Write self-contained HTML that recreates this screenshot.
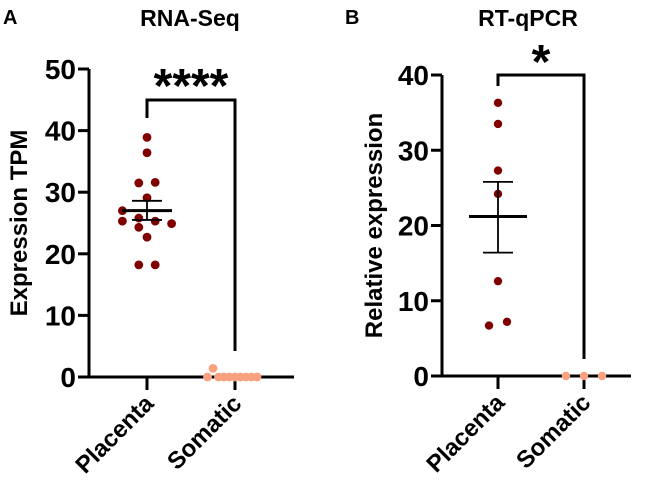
<!DOCTYPE html>
<html><head><meta charset="utf-8"><style>
html,body{margin:0;padding:0;background:#fff;}
svg{display:block;font-family:"Liberation Sans",Arial,sans-serif;font-weight:bold;}
</style></head><body>
<svg id="c" width="645" height="482" xmlns="http://www.w3.org/2000/svg"></svg>
<script>
const categories = ["Placenta","Somatic"];
const aPlacenta = [38.9,36.4,31.5,31.6,29.1,27.0,25.3,25.8,25.3,24.9,24.3,22.7,18.2,18.2];
const aPlacentaJitter = [0,0,-1,1,0,-3,-3,-1,1,3,-1,0,-1,1];
const aSomatic = [0,1.4,0,0,0,0,0,0,0,0];
const aSomaticJitter = [-5,-4,-3,-2,-1,0,1,2,3,4];
const aStats = [27.0,28.6,25.5];
const aTicks = [0,10,20,30,40,50];
const bPlacenta = [36.3,33.5,27.3,24.2,12.6,6.7,7.2];
const bPlacentaJitter = [0,0,0,0,0,-1,1];
const bSomatic = [0,0,0];
const bSomaticJitter = [-1,0,1];
const bStats = [21.2,25.8,16.4];
const bTicks = [0,10,20,30,40];
const NS="http://www.w3.org/2000/svg";
const svg=document.getElementById('c');
function el(t,a,txt){const e=document.createElementNS(NS,t);for(const k in a)e.setAttribute(k,a[k]);if(txt!==undefined)e.textContent=txt;svg.appendChild(e);return e;}
function panel(o){
  const y=v=>o.y0-(v/o.max)*(o.y0-o.yTop);
  const xs=[o.xP,o.xS];
  let e;
  e=el('text',{x:o.letterX,y:24,'font-size':20},o.letter);
  
  e=el('text',{x:o.titleX,y:26,'font-size':23,'text-anchor':'middle'},o.title);
  
  e=el('line',{x1:o.ax,y1:o.yTop,x2:o.ax,y2:o.y0,stroke:'#000','stroke-width':3});
  
  e=el('line',{x1:o.ax-1.5,y1:o.y0,x2:o.xEnd,y2:o.y0,stroke:'#000','stroke-width':3});
  
  o.ticks.forEach(t=>{
    e=el('line',{x1:o.ax-11,y1:y(t),x2:o.ax,y2:y(t),stroke:'#000','stroke-width':3});
    
    e=el('text',{x:o.ax-13,y:y(t)+10,'font-size':28,'text-anchor':'end'},t);
    
  });
  categories.forEach((c,i)=>{
    e=el('line',{x1:xs[i],y1:o.y0,x2:xs[i],y2:o.y0+13,stroke:'#000','stroke-width':3});
    
    e=el('text',{x:xs[i]+8,y:o.y0+28,'font-size':24,'text-anchor':'end',transform:`rotate(-45 ${xs[i]+8} ${o.y0+28})`},c);
    
  });
  e=el('text',{x:0,y:0,'font-size':24,'text-anchor':'middle',transform:`translate(${o.ytX},${(o.y0+o.yTop)/2}) rotate(-90)`},o.yTitle);
  
  e=el('polyline',{points:`${o.xP},${o.bL} ${o.xP},${o.bY} ${o.xS},${o.bY} ${o.xS},${o.bR}`,fill:'none',stroke:'#000','stroke-width':3});
  
  e=el('text',{x:(o.xP+o.xS)/2,y:o.bY+o.starDy,'font-size':48,'text-anchor':'middle'},o.stars);
  
  o.pl.forEach((v,i)=>{e=el('circle',{cx:o.xP+o.pj[i]*o.js,cy:y(v),r:o.r,fill:'#800000'});
    });
  o.so.forEach((v,i)=>{e=el('circle',{cx:o.xS+o.sj[i]*o.sjs,cy:y(v),r:o.r,fill:'#f9a07e'});
    });
  const m=o.st;
  e=el('line',{x1:o.xP-o.mw,y1:y(m[0]),x2:o.xP+o.mw,y2:y(m[0]),stroke:'#000','stroke-width':3});
  
  e=el('line',{x1:o.xP,y1:y(m[1]),x2:o.xP,y2:y(m[2]),stroke:'#000','stroke-width':1.8});
  
  [m[1],m[2]].forEach(v=>{e=el('line',{x1:o.xP-o.cw,y1:y(v),x2:o.xP+o.cw,y2:y(v),stroke:'#000','stroke-width':1.8});
    });
}
panel({letter:'A',letterX:3,title:'RNA-Seq',titleX:190,ax:89,y0:377,yTop:69,max:50,xP:147,xS:235,xEnd:294,ticks:aTicks,
  yTitle:'Expression TPM',ytX:27,bY:100,bL:118,bR:351,stars:'****',starDy:2,pl:aPlacenta,pj:aPlacentaJitter,js:8.2,so:aSomatic,sj:aSomaticJitter,sjs:5.5,
  r:4.4,st:aStats,mw:25,cw:15});
panel({letter:'B',letterX:345,title:'RT-qPCR',titleX:528,ax:442,y0:376,yTop:75,max:40,xP:498,xS:584,xEnd:631,ticks:bTicks,
  yTitle:'Relative expression',ytX:382,bY:75,bL:86,bR:359,stars:'*',starDy:3,pl:bPlacenta,pj:bPlacentaJitter,js:9,so:bSomatic,sj:bSomaticJitter,sjs:18,
  r:4.2,st:bStats,mw:29,cw:15});
</script>
</body></html>
